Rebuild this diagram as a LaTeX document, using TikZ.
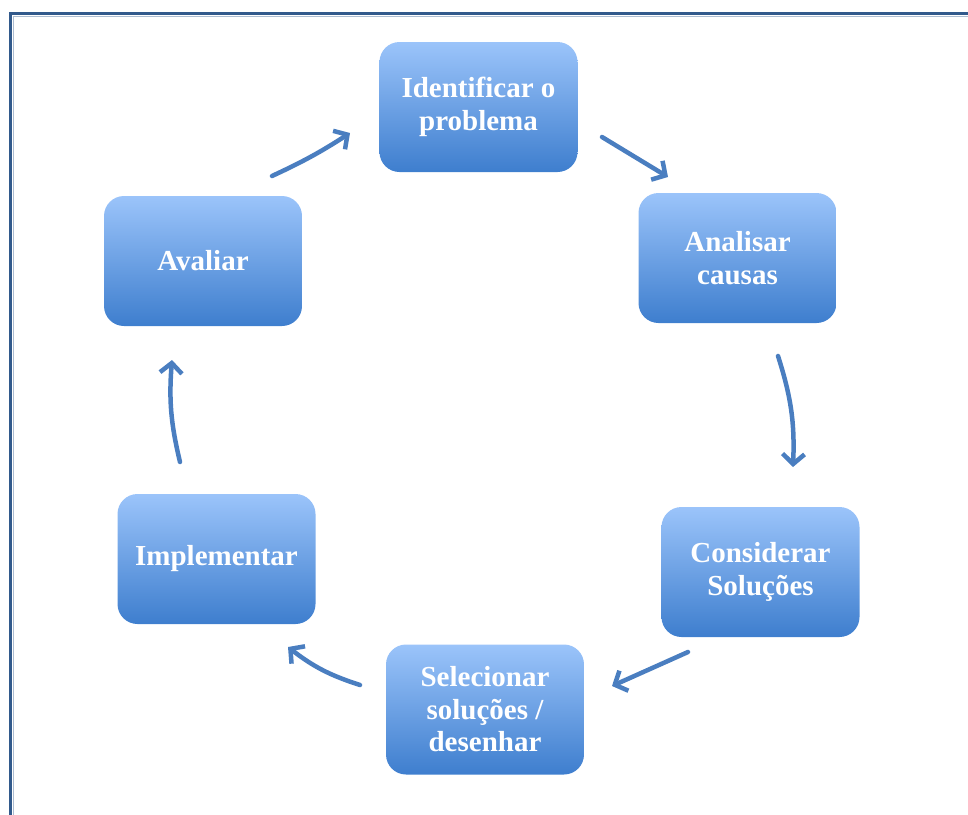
\documentclass[tikz,border=0pt]{standalone}
\usepackage{fontspec}
\setmainfont{Liberation Serif}
\usetikzlibrary{arrows.meta}
\definecolor{frameblue}{RGB}{50,90,140}
\definecolor{boxtop}{RGB}{155,196,250}
\definecolor{boxbot}{RGB}{62,126,206}
\definecolor{arrowblue}{RGB}{74,126,192}
\tikzset{
  stepbox/.style={rounded corners=20pt, minimum width=198pt, minimum height=130pt,
    top color=boxtop, bottom color=boxbot, draw=none, align=center,
    text=white, font=\fontsize{29}{32.5}\selectfont\bfseries, inner sep=0pt},
  flow/.style={draw=arrowblue, line width=4.5pt, line cap=round,
    -{Straight Barb[length=10pt,width=22pt,line width=4.5pt]}}
}
\begin{document}
\begin{tikzpicture}[x=1pt,y=-1pt]
\useasboundingbox (0,0) rectangle (968,814);
\clip (0,0) rectangle (968,814);
\draw[frameblue, line width=3pt] (10.5,13.5) rectangle (1000,900);
\draw[frameblue!40, line width=1pt] (13,16) rectangle (1000,900);

\node[stepbox] (id) at (478.5,107) {Identificar o\\problema};
\node[stepbox] (an) at (737.5,258) {Analisar\\causas};
\node[stepbox] (co) at (760.5,572) {Considerar\\Soluções};
\node[stepbox] (se) at (485,709.5) {Selecionar\\soluções /\\desenhar};
\node[stepbox] (im) at (216.5,559) {Implementar};
\node[stepbox] (av) at (203,261) {Avaliar};

\coordinate (a1s) at (272,176);
\coordinate (a1e) at (350,133);
\coordinate (a2s) at (602,137);
\coordinate (a2e) at (668,177);
\coordinate (a3s) at (778,356);
\coordinate (a3e) at (793,467);
\coordinate (a4s) at (688,652);
\coordinate (a4e) at (612,686);
\coordinate (a5s) at (360,685);
\coordinate (a5e) at (288,647);
\coordinate (a6s) at (180,462);
\coordinate (a6e) at (172,360);

\draw[flow] (a1s) to[bend right=4] (a1e);
\draw[flow] (a2s) -- (a2e);
\draw[flow] (a3s) to[bend left=10] (a3e);
\draw[flow] (a4s) -- (a4e);
\draw[flow] (a5s) to[bend left=10] (a5e);
\draw[flow] (a6s) to[bend left=9] (a6e);
\end{tikzpicture}
\end{document}
